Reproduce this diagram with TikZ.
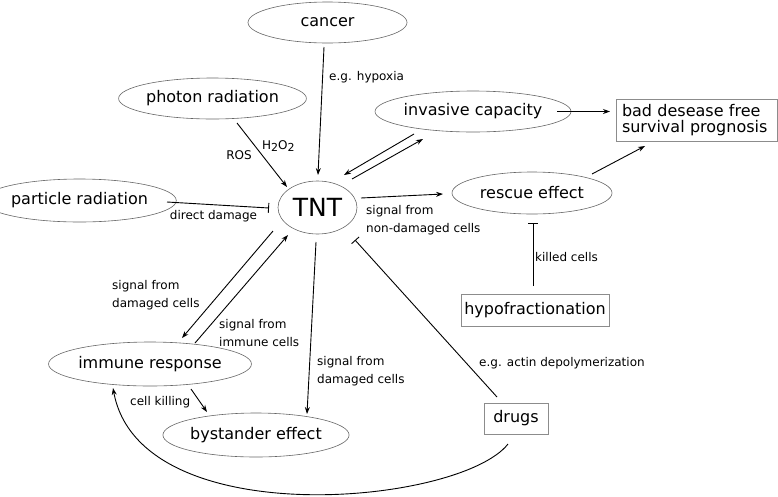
\documentclass[tikz,border=0pt]{standalone}
\usepackage{fontspec}
\setmainfont{DejaVu Sans}
\usetikzlibrary{shapes.geometric,arrows.meta,calc}
\begin{document}
\begin{tikzpicture}[x=1pt,y=-1pt,
  ell/.style={ellipse, draw=black!60, line width=0.6pt, inner sep=0pt, font=\fontsize{16}{19}\selectfont},
  box/.style={rectangle, draw=black!45, line width=0.8pt, inner sep=0pt, font=\fontsize{16}{16}\selectfont},
  lab/.style={font=\fontsize{12}{18}\selectfont, inner sep=0pt, align=left},
  conn/.style={line width=0.9pt},
  arr/.style={conn, -{Stealth[length=7pt,width=5pt]}},
  inh/.style={conn, -{Bar[width=10pt]}}
]
\useasboundingbox (0,0) rectangle (778,496);

% nodes
\node[ell, minimum width=159pt, minimum height=41pt] (cancer) at (327.5,22.5) {cancer};
\node[ell, minimum width=159pt, minimum height=41pt] (photon) at (212.5,98.5) {photon radiation};
\node[ell, minimum width=159pt, minimum height=43pt] (particle) at (79.5,200.5) {particle radiation};
\node[ell, minimum width=79pt, minimum height=53pt, font=\fontsize{25}{30}\selectfont] (tnt) at (317.5,207.5) {TNT};
\node[ell, minimum width=160pt, minimum height=41pt] (invasive) at (473,111.5) {invasive capacity};
\node[box, minimum height=42pt, inner xsep=6pt, text width=149pt, align=left] (bad) at (696.5,120) {bad desease free\\survival prognosis};
\node[ell, minimum width=160pt, minimum height=42pt] (rescue) at (532,193) {rescue effect};
\node[box, minimum width=148pt, minimum height=32pt] (hypo) at (535,310) {hypofractionation};
\node[ell, minimum width=160pt, minimum height=44pt] (immune) at (150,364) {immune response};
\node[ell, minimum width=160pt, minimum height=44pt] (bystander) at (256,435) {bystander effect};
\node[box, minimum width=64pt, minimum height=31pt] (drugs) at (516,418.5) {drugs};

% labels
\node[lab, anchor=west] (lhyp) at (329,77) {e.g. hypoxia};
\node[lab] (lros) at (239,155) {ROS};
\node[lab, anchor=west] (lh2o2) at (262,146) {H\raisebox{-2.5pt}{\fontsize{11}{11}\selectfont 2}O\raisebox{-2.5pt}{\fontsize{11}{11}\selectfont 2}};
\node[lab] (ldd) at (213.5,216) {direct damage};
\node[lab, anchor=west] (lnon) at (366,220) {signal from\\non-damaged cells};
\node[lab, anchor=west] (lkill) at (535,257) {killed cells};
\node[lab, anchor=west] (ldam1) at (112,295) {signal from\\damaged cells};
\node[lab, anchor=west] (limm) at (219,333) {signal from\\immune cells};
\node[lab, anchor=west] (ldam2) at (317,371) {signal from\\damaged cells};
\node[lab, anchor=west] (lck) at (130,402) {cell killing};
\node[lab, anchor=west] (lactin) at (479,363) {e.g. actin depolymerization};

% connectors
\draw[arr] ($(cancer.center)+(-3.5,24.5)$) -- ($(tnt.center)+(0.5,-32.5)$);
\draw[arr] ($(photon.center)+(24.5,24.5)$) -- ($(tnt.center)+(-30.5,-20.5)$);
\draw[inh] ($(particle.center)+(87.5,1.5)$) -- ($(tnt.center)+(-48.5,0.5)$);
\draw[arr] ($(invasive.center)+(-59,22.5)$) -- ($(tnt.center)+(26.5,-32.5)$);
\draw[arr] ($(tnt.center)+(34.5,-28.5)$) -- ($(invasive.center)+(-50,27.5)$);
\draw[arr] ($(invasive.center)+(84,0)$) -- ($(bad.center)+(-86.5,-8.5)$);
\draw[arr] ($(tnt.center)+(43.5,-9.5)$) -- ($(rescue.center)+(-89,1)$);
\draw[arr] ($(rescue.center)+(60,-19)$) -- ($(bad.center)+(-51.5,26)$);
\draw[inh] ($(hypo.center)+(-2,-24)$) -- ($(rescue.center)+(1,30)$);
\draw[arr] ($(tnt.center)+(-44.5,23.5)$) -- ($(immune.center)+(32,-26)$);
\draw[arr] ($(immune.center)+(45,-21)$) -- ($(tnt.center)+(-29.5,27.5)$);
\draw[arr] ($(tnt.center)+(-1.5,34.5)$) -- ($(bystander.center)+(51,-21)$);
\draw[arr] ($(immune.center)+(41,25)$) -- ($(bystander.center)+(-49,-23)$);
\draw[inh] ($(drugs.center)+(-19,-21.5)$) -- ($(tnt.center)+(37.5,32.5)$);
\draw[arr] ($(drugs.center)+(-8,25.5)$) .. controls (460,505) and (140,535) .. ($(immune.center)+(-37,24)$);
\end{tikzpicture}
\end{document}
